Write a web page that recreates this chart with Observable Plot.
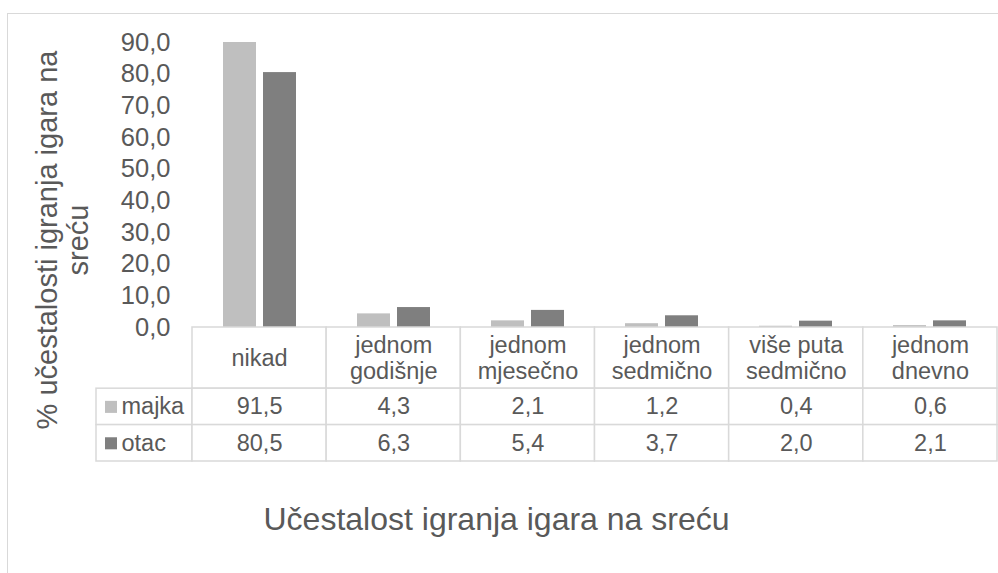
<!DOCTYPE html>
<html>
<head>
<meta charset="utf-8">
<script src="https://cdn.jsdelivr.net/npm/d3@7"></script>
<script src="https://cdn.jsdelivr.net/npm/@observablehq/plot@0.6"></script>
<style>
  html, body { margin: 0; padding: 0; background: #fff; overflow: hidden; }
  #chart { position: relative; width: 998px; height: 573px; font-family: "Liberation Sans", Arial, sans-serif; color: #595959; }
  #frame { position: absolute; left: 7px; top: 13px; width: 995px; height: 600px; border-top: 1.5px solid #d9d9d9; border-left: 1.5px solid #d9d9d9; }
  #bars { position: absolute; left: 0; top: 0; }
  #table { position: absolute; left: 0; top: 320px; }
  #ytitle { position: absolute; left: 63px; top: 240px; transform: translate(-50%, -50%) rotate(-90deg); font-size: 29px; line-height: 31px; text-align: center; white-space: nowrap; }
  #xtitle { position: absolute; left: 0; top: 503px; width: 993px; text-align: center; font-size: 32px; line-height: 32px; white-space: nowrap; }
</style>
</head>
<body>
<div id="chart">
  <div id="frame"></div>
  <div id="bars"></div>
  <div id="table"></div>
  <div id="ytitle"></div>
  <div id="xtitle"></div>
</div>
<script>
// ---- data ----
const categories = ["nikad", "jednom godišnje", "jednom mjesečno", "jednom sedmično", "više puta sedmično", "jednom dnevno"];
const categoryLabels = ["nikad", "jednom\ngodišnje", "jednom\nmjesečno", "jednom\nsedmično", "više puta\nsedmično", "jednom\ndnevno"];
const series = ["majka", "otac"];
const majka = [91.5, 4.3, 2.1, 1.2, 0.4, 0.6];
const otac = [80.5, 6.3, 5.4, 3.7, 2.0, 2.1];
const yTicks = [0, 10, 20, 30, 40, 50, 60, 70, 80, 90];
const yTitle = ["% učestalosti igranja igara na", "sreću"];
const xTitle = "Učestalost igranja igara na sreću";

// ---- style / layout ----
const colors = ["#bfbfbf", "#7f7f7f"];
const gridColor = "#d9d9d9";
const textColor = "#595959";
const fontFamily = "'Liberation Sans', Arial, sans-serif";
const fmt = d => d.toFixed(1).replace(".", ",");
const values = {majka, otac};

const bars = categories.flatMap((c, i) => series.map(s => ({cat: c, series: s, value: values[s][i]})));

const barPlot = Plot.plot({
  width: 998, height: 327,
  marginTop: 42, marginBottom: 0, marginLeft: 192, marginRight: 1,
  style: {fontFamily, fontSize: "25.5px", color: textColor, background: "transparent", overflow: "visible"},
  fx: {domain: categories, paddingInner: 0.44, paddingOuter: 0.22, axis: null, label: null},
  x: {domain: series, paddingInner: 0.17, paddingOuter: 0, axis: null, label: null},
  y: {domain: [0, 90], axis: null},
  color: {domain: series, range: colors},
  marks: [
    Plot.axisY(yTicks, {tickSize: 0, tickPadding: 52, tickFormat: fmt, label: null, fill: textColor}),
    Plot.barY(bars, {fx: "cat", x: "series", y: "value", fill: "series", clip: true})
  ]
});
document.getElementById("bars").appendChild(barPlot);

// ---- data table ----
const headerH = 1.68;          // header row height in row units
const legendW = 96 / 134.17;   // legend column width in column units
const cells = [];
categories.forEach((c, i) => cells.push({x1: i, x2: i + 1, y1: 0, y2: headerH}));
series.forEach((s, r) => {
  cells.push({x1: -legendW, x2: 0, y1: headerH + r, y2: headerH + r + 1});
  categories.forEach((c, i) => cells.push({x1: i, x2: i + 1, y1: headerH + r, y2: headerH + r + 1}));
});
const bodyText = series.flatMap((s, r) => categories.map((c, i) => ({i, r, text: fmt(values[s][i])})));
const legendRows = series.map((s, r) => ({s, r}));

const tablePlot = Plot.plot({
  width: 998, height: 150,
  marginTop: 7, marginBottom: 9, marginLeft: 192, marginRight: 1,
  style: {fontFamily, fontSize: "23.5px", color: textColor, background: "transparent", overflow: "visible"},
  x: {domain: [0, categories.length], axis: null},
  y: {domain: [0, headerH + series.length], reverse: true, axis: null},
  color: {domain: series, range: colors},
  marks: [
    Plot.rect(cells, {x1: "x1", x2: "x2", y1: "y1", y2: "y2", fill: "white", stroke: gridColor, strokeWidth: 1.5}),
    Plot.text(categoryLabels, {x: (d, i) => i + 0.5, y: headerH / 2, text: d => d, lineHeight: 1.1, fill: textColor}),
    Plot.text(bodyText, {x: d => d.i + 0.5, y: d => headerH + d.r + 0.5, text: "text", fill: textColor}),
    Plot.dot(legendRows, {x: -legendW, y: d => headerH + d.r + 0.5, dx: 14.5, symbol: "square", r: 6.8, fill: "s"}),
    Plot.text(legendRows, {x: -legendW, y: d => headerH + d.r + 0.5, dx: 25, text: "s", textAnchor: "start", fill: textColor})
  ]
});
document.getElementById("table").appendChild(tablePlot);

document.getElementById("ytitle").innerHTML = yTitle.join("<br>");
document.getElementById("xtitle").textContent = xTitle;
</script>
</body>
</html>
